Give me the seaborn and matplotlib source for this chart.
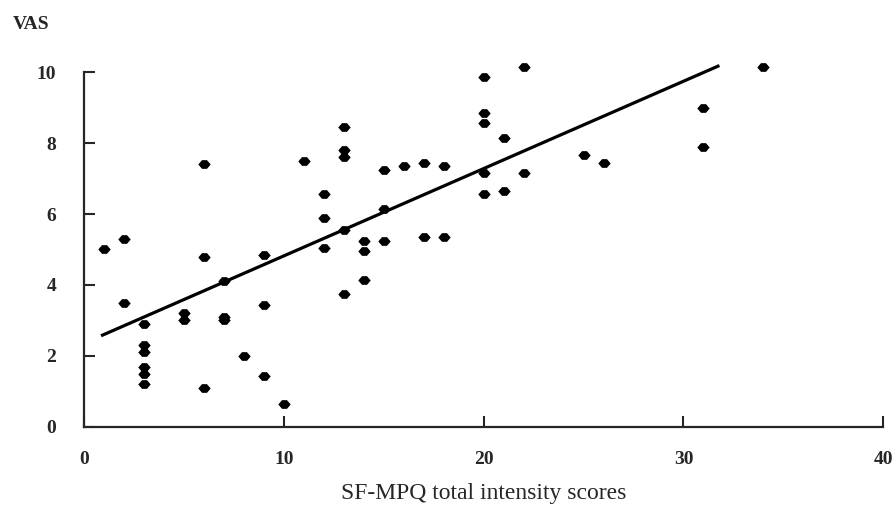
import numpy as np
import pandas as pd
import matplotlib.pyplot as plt
import seaborn as sns
from matplotlib.path import Path

# Données
sf_mpq = [1, 2, 2, 3, 3, 3, 3, 3, 3, 5, 5, 6, 6, 6, 7, 7, 7, 8, 9, 9, 9, 10,
          11, 12, 12, 12, 13, 13, 13, 13, 13, 14, 14, 14, 15, 15, 15, 16,
          17, 17, 18, 18, 20, 20, 20, 20, 20, 21, 21, 22, 22, 25, 26, 31, 31, 34]
vas = [5.0, 5.3, 3.5, 2.9, 2.3, 2.1, 1.7, 1.5, 1.2, 3.2, 3.0, 7.4, 4.8, 1.1,
       4.1, 3.1, 3.0, 2.0, 4.85, 3.45, 1.45, 0.65,
       7.5, 6.55, 5.9, 5.05, 8.45, 7.8, 7.6, 5.55, 3.75, 5.25, 4.95, 4.15,
       7.25, 6.15, 5.25, 7.35, 7.45, 5.35, 7.35, 5.35,
       9.85, 8.85, 8.55, 7.15, 6.55, 8.15, 6.65, 10.15, 7.15, 7.65, 7.45,
       9.0, 7.9, 10.15]
x_ticks = [0, 10, 20, 30, 40]
y_ticks = [0, 2, 4, 6, 8, 10]

# droite de régression telle que tracée sur la figure
origine = 2.36
pente = 0.246
fit_range = [0.85, 31.8]

df = pd.DataFrame({"sf_mpq": sf_mpq, "vas": vas})

sns.set_style("ticks")
plt.rcParams['font.family'] = ['Liberation Serif', 'DejaVu Serif']

fig = plt.figure(figsize=(8.96, 5.05), dpi=100)
ax = fig.add_axes([0.0938, 0.1545, 0.892, 0.731])

# marqueur en losange aplati
losange = Path([(-1, 0), (-0.4, 0.7), (0.4, 0.7), (1, 0),
                (0.4, -0.7), (-0.4, -0.7), (-1, 0)])
sns.scatterplot(data=df, x="sf_mpq", y="vas", marker=losange, s=80,
                color="black", edgecolor="black", linewidth=0, ax=ax)

xs = np.array(fit_range)
ax.plot(xs, origine + pente * xs, color="black", linewidth=2.3,
        solid_capstyle="butt")

ax.set_xlim(0, 40)
ax.set_ylim(0, 10.4)
ax.set_xticks(x_ticks)
ax.set_yticks(y_ticks)
ax.spines['top'].set_visible(False)
ax.spines['right'].set_visible(False)
ax.spines['left'].set_bounds(0, 10)
ax.spines['left'].set_linewidth(1.6)
ax.spines['bottom'].set_linewidth(1.6)
ax.tick_params(axis='y', direction='in', length=8, width=1.5, pad=20,
               labelsize=14)
ax.tick_params(axis='x', direction='in', length=8, width=1.5, pad=17,
               labelsize=14)
for lab in ax.get_xticklabels() + ax.get_yticklabels():
    lab.set_fontweight('bold')

ax.set_xlabel("SF-MPQ total intensity scores", fontsize=17, labelpad=11)
ax.set_ylabel("")
fig.text(0.0145, 0.952, "VAS", fontsize=14, fontweight='bold',
         ha='left', va='center')

plt.savefig("out.png", dpi=100)
